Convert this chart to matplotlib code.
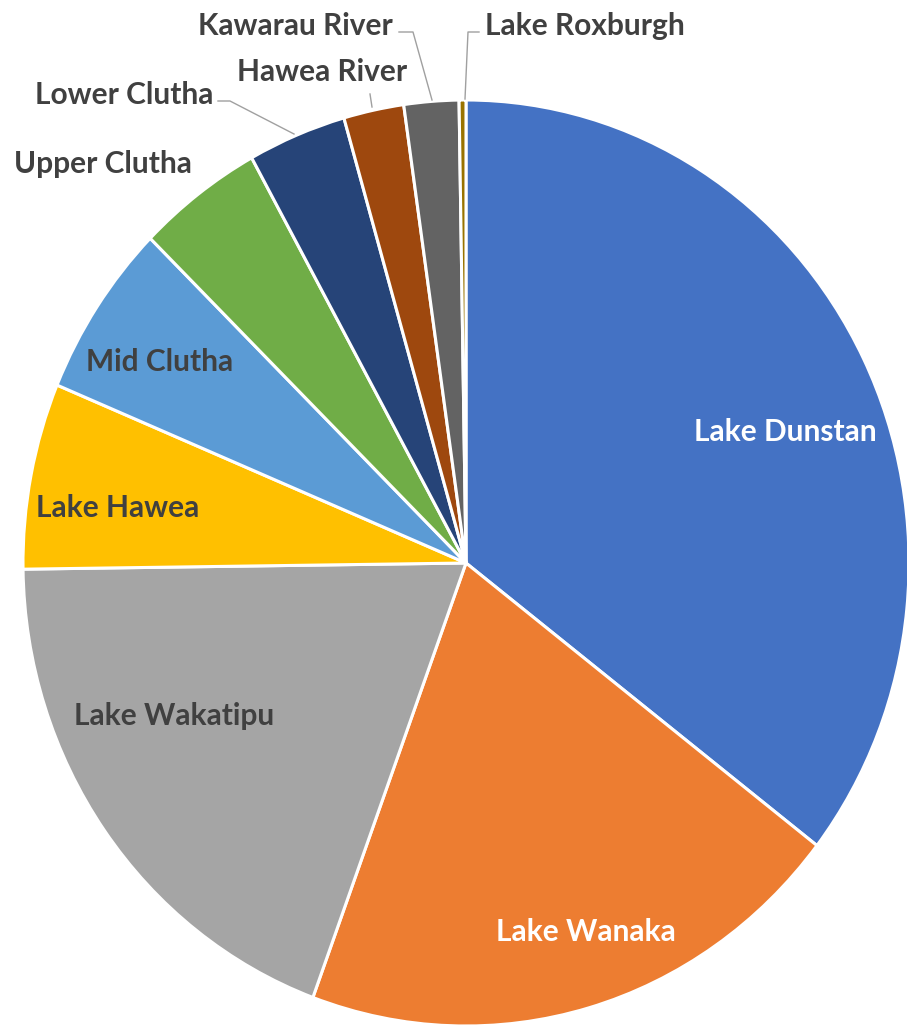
import matplotlib
matplotlib.use("Agg")
import matplotlib.pyplot as plt

# ---- data (percent shares) ----
categories = ["Lake Dunstan", "Lake Wanaka", "Lake Wakatipu", "Lake Hawea",
              "Mid Clutha", "Upper Clutha", "Lower Clutha", "Hawea River",
              "Kawarau River", "Lake Roxburgh"]
values = [35.5, 20.2, 19.2, 6.5, 6.1, 4.6, 3.6, 2.2, 2.0, 0.25]
colors = ["#4472C4", "#ED7D31", "#A5A5A5", "#FFC000", "#5B9BD5",
          "#70AD47", "#264478", "#9E480E", "#636363", "#997300"]

W, H = 907, 1026
CX, CY = 466, 563          # pie centre in pixels (from top-left)
RX, RY = 443, 463          # pie radii in pixels

fig = plt.figure(figsize=(W / 100, H / 100), dpi=100)
ax = fig.add_axes([0, 0, 1, 1])
ax.pie(values, colors=colors, startangle=90, counterclock=False,
       wedgeprops=dict(edgecolor="white", linewidth=2.2))
ax.set_aspect("auto")
ax.set_xlim(-CX / RX, (W - CX) / RX)
ax.set_ylim(-(H - CY) / RY, CY / RY)
ax.axis("off")


def px(x, y):
    return ((x - CX) / RX, (CY - y) / RY)


FONT = "Lato"
FS = 21.5
dark = "#404040"

# label placement (pixel positions) — layout only
inside = {
    "Lake Dunstan": ((785, 432), "white"),
    "Lake Wanaka": ((586, 932), "white"),
    "Lake Wakatipu": ((174, 716), dark),
    "Lake Hawea": ((118, 508), dark),
    "Mid Clutha": ((160, 362), dark),
}
for name, ((x, y), c) in inside.items():
    ax.text(*px(x, y), name, ha="center", va="center", color=c,
            fontsize=FS, fontweight="bold", family=FONT)

outside = {
    "Upper Clutha": ((103, 164), None),
    "Lower Clutha": ((124, 95), [(218, 101), (230, 101), (294, 134)]),
    "Hawea River": ((322, 72), [(370, 94), (372, 107)]),
    "Kawarau River": ((295, 26), [(399, 32), (413, 32), (432, 100)]),
    "Lake Roxburgh": ((585, 26), [(479, 32), (468, 32), (465, 99)]),
}
for name, ((x, y), line) in outside.items():
    ax.text(*px(x, y), name, ha="center", va="center", color=dark,
            fontsize=FS, fontweight="bold", family=FONT)
    if line:
        xs, ys = zip(*[px(a, b) for a, b in line])
        ax.plot(xs, ys, color="#A0A0A0", lw=1.0)

fig.savefig("out.png", dpi=100, facecolor="white")
